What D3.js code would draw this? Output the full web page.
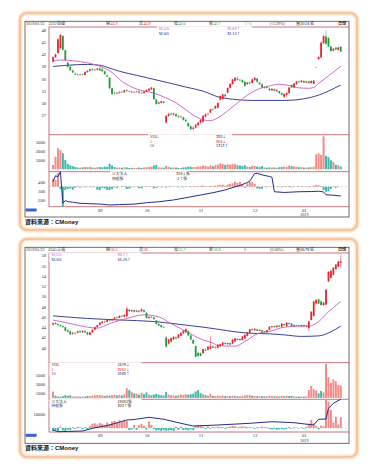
<!DOCTYPE html>
<html>
<head>
<meta charset="utf-8">
<script src="https://cdn.jsdelivr.net/npm/d3@7"></script>
<style>
  html, body { margin: 0; padding: 0; background: #fff; }
  svg { display: block; }
</style>
</head>
<body>
<div id="chart"></div>
<script>
// ---- trading calendar (category axis) ----
const firstDay = "2018-08-06"
const lastDay = "2019-01-22"
const holidays = ["2018-09-24", "2018-10-10", "2018-12-31", "2019-01-01"]
const monthTicks = ["2018-09-03", "2018-10-01", "2018-11-01", "2018-12-03", "2019-01-02"]
const monthLabels = ["09", "10", "11", "12", "01"]

// ---- 3232 : [open, high, low, close] per day ----
const p1Ohlc = [
  [40.2,41.5,40.0,41.3],[41.3,42.2,41.0,42.0],[42.3,46.0,42.0,45.7],[43.5,47.0,43.2,46.8],[46.5,46.8,42.9,43.1],
  [43.0,43.2,40.3,40.6],[39.9,40.1,38.7,38.9],[38.9,39.2,37.9,38.1],[38.0,38.3,37.3,37.5],[37.2,37.5,36.8,37.0],
  [37.0,37.3,36.7,36.9],[36.9,37.2,36.7,37.0],[37.0,37.2,36.8,36.9],[36.9,37.8,36.8,37.6],[37.6,38.1,37.4,37.9],
  [37.9,38.5,37.7,38.3],[38.3,38.6,37.9,38.1],[38.1,38.4,37.9,38.2],[38.2,38.7,38.0,38.5],[38.5,38.8,37.8,38.0],
  [38.3,38.6,37.6,37.8],[37.8,38.0,36.9,37.1],[36.8,37.0,36.3,36.5],[36.2,36.4,33.4,33.6],[33.6,33.8,32.0,32.2],
  [32.4,32.8,32.0,32.3],[32.3,32.7,32.1,32.5],[32.5,32.9,32.3,32.7],[32.7,33.0,32.4,32.6],[32.6,33.3,32.5,33.1],
  [33.1,33.4,32.8,32.9],[32.9,33.1,32.6,32.8],[32.8,33.0,32.4,32.6],[32.6,32.9,32.4,32.7],[32.7,33.0,32.5,32.8],
  [32.8,33.0,32.3,32.5],[32.5,32.8,32.2,32.4],[32.4,32.9,32.3,32.8],[32.8,33.3,32.7,33.2],[33.0,33.6,32.9,33.5],
  [33.3,33.9,33.2,33.8],[33.6,33.7,30.7,30.9],[30.8,31.0,29.5,29.7],[29.8,30.3,29.6,30.1],[30.0,30.5,29.8,30.4],
  [30.3,30.5,29.8,30.0],[25.1,27.1,24.9,26.8],[26.8,27.5,26.5,27.3],[27.3,27.7,26.9,27.1],[27.1,27.6,26.8,27.4],
  [27.2,27.4,26.5,26.7],[26.7,27.0,26.3,26.5],[26.5,26.9,26.2,26.6],[26.4,26.6,25.6,25.8],[25.8,26.2,25.3,25.5],
  [25.0,25.2,24.0,24.2],[24.2,24.5,23.3,23.5],[23.6,24.2,23.2,23.9],[23.9,24.9,23.7,24.6],[24.5,25.4,24.3,25.1],
  [25.1,26.0,24.9,25.8],[25.3,27.0,25.1,26.8],[26.6,27.4,26.4,27.2],[27.2,27.6,26.9,27.3],[27.6,28.5,27.4,28.4],
  [28.4,28.8,28.0,28.3],[28.6,29.4,28.5,29.2],[28.8,30.1,28.7,30.0],[30.8,31.8,30.6,31.7],[30.9,32.2,30.8,32.1],
  [32.0,32.3,31.4,31.6],[32.5,33.8,32.4,33.7],[33.7,34.8,33.6,34.7],[34.6,35.9,34.5,35.8],[35.4,36.4,35.3,36.2],
  [36.0,36.6,35.5,35.7],[35.7,36.0,35.3,35.6],[35.6,35.8,34.9,35.1],[35.2,35.4,34.0,34.2],[34.6,35.2,34.5,35.0],
  [35.0,35.3,34.6,34.8],[34.9,36.0,34.8,35.8],[35.6,36.4,35.5,36.2],[36.0,36.1,35.0,35.2],[35.0,35.2,34.4,34.6],
  [34.6,34.8,33.6,33.8],[33.8,34.1,33.5,33.9],[33.9,34.2,33.6,33.7],[33.5,33.8,32.9,33.1],[33.1,33.6,33.0,33.5],
  [33.4,33.6,32.8,33.0],[32.9,33.3,32.6,33.2],[32.9,33.0,32.2,32.4],[32.4,32.6,31.8,32.0],[31.5,32.3,31.2,32.2],
  [32.0,32.6,31.5,32.5],[32.4,33.9,32.3,33.8],[34.4,34.6,33.7,33.8],[33.8,34.9,33.7,34.8],[34.6,35.4,34.5,35.3],
  [35.3,35.5,34.9,35.1],[35.1,35.7,35.0,35.5],[35.4,35.6,34.9,35.0],[35.0,35.5,34.8,35.3],[35.3,35.5,34.7,34.9],
  [34.9,35.6,34.8,35.4],[34.7,35.6,34.6,35.5],[38.8,38.8,38.8,38.8],[40.8,41.5,40.6,41.3],[41.2,45.2,41.0,44.9],
  [44.8,46.9,44.5,46.5],[46.4,47.8,44.3,44.6],[46.0,46.3,43.8,43.9],[43.9,44.2,42.7,42.8],[42.9,43.6,42.7,43.4],
  [43.6,43.9,43.1,43.2],[43.1,43.8,42.9,43.7],[43.9,43.9,42.6,42.7]
]
const p1Vol = [
  480,1400,2330,2140,1780,1030,600,450,350,250,200,180,220,260,240,280,200,170,230,260,
  220,300,280,620,420,250,180,200,160,230,210,150,170,140,160,200,150,190,240,260,
  300,420,480,220,180,200,380,260,180,200,190,160,150,210,230,310,280,240,260,300,
  340,420,380,300,420,350,460,520,640,600,480,560,520,620,580,450,420,380,440,300,
  260,400,380,300,280,350,200,180,220,190,210,170,240,260,300,280,420,360,330,280,
  220,240,200,190,210,230,300,1650,1780,1600,3650,1500,1350,1000,800,500,450,300
]
const p1Net = [
  140,120,245,-40,-357,-60,-40,-30,-55,-20,10,-15,8,-10,10,-8,-12,6,-55,-60,
  -20,-30,-55,-60,-40,-10,-20,6,-8,10,-40,-35,-10,5,-8,-25,-30,8,12,-6,
  10,-30,-20,8,-10,6,-15,10,-8,5,-6,-10,6,-12,-5,8,-10,6,12,10,
  15,20,12,-6,18,10,20,25,30,35,20,40,50,60,90,70,85,40,-20,60,
  90,80,50,-30,-40,-35,10,-10,8,-6,10,-8,6,-10,12,8,15,-12,10,6,
  -8,10,-6,8,-10,6,20,30,25,15,-60,-90,-85,-40,10,-20,8,-2
]
// [day index, value]
const p1Hold = [[0,403],[1,470],[2,460],[3,516],[4,160],[5,190],[6,178],[8,172],[11,159],[15,155],[19,151],[23,140],[27,145],[33,150],[38,166],[43,177],[49,197],[55,227],[60,253],[65,279],[70,310],[74,345],[76,360],[79,395],[80,410],[82,495],[83,498],[85,480],[88,462],[89,455],[90,290],[94,282],[100,290],[105,292],[108,296],[110,288],[111,255],[113,253],[117,242]]
const p1Ma20 = [[0,40.3],[3,40.6],[8,40.4],[14,39.9],[20,38.8],[24,37.5],[27,35.8],[34,33.4],[41,32.4],[46,31.2],[50,30.0],[54,28.3],[58,26.6],[62,25.7],[64,25.6],[67,26.3],[72,28.5],[77,31.0],[82,33.0],[88,34.2],[92,34.6],[96,34.3],[100,33.7],[104,33.6],[106,33.8],[108,34.8],[111,36.2],[114,37.6],[117,39.0]]
const p1Ma60 = [[0,39.0],[6,39.3],[14,39.5],[19,39.3],[22,38.8],[27,37.8],[34,36.8],[41,35.8],[48,34.8],[54,33.9],[61,32.9],[67,31.5],[73,30.9],[81,30.6],[94,30.6],[102,31.0],[108,31.9],[113,33.2],[117,34.4]]
const p1PriceTicks = [27, 30, 33, 36, 39, 42, 45, 48]
const p1VolTicks = [1000, 2000, 3000]
const p1HoldTicks = [200, 300, 400]
const p1Quote = ["2019/01/22", "3232", "昱捷", "43.9", "43.9", "42.6", "42.7", "▽-1", "(-2.29%)", "2014"]
const p1MaText = ["38.69↑", "34.15↑"]
const p1VolText = ["300↓", "864↓", "1313↑"]
const p1NetText = ["319↓張", "-2↑張"]

// ---- 6245 ----
const p2Ohlc = [
  [44.5,44.9,44.3,44.8],[44.8,45.0,44.5,44.6],[44.6,44.8,44.3,44.4],[44.4,44.6,44.1,44.2],[44.2,44.4,43.9,44.0],
  [44.0,44.1,43.2,43.3],[43.4,43.6,43.0,43.1],[43.2,43.3,42.5,42.6],[42.7,43.1,42.5,42.9],[42.9,43.1,42.6,42.8],
  [42.9,43.3,42.8,43.2],[43.2,43.4,42.9,43.0],[43.0,43.4,42.9,43.3],[43.2,43.4,42.9,43.0],[43.0,43.1,42.4,42.6],
  [42.5,43.1,42.4,43.0],[43.0,43.6,42.9,43.5],[43.5,44.1,43.4,44.0],[44.0,44.5,43.9,44.4],[44.4,45.0,44.3,44.9],
  [44.8,45.2,44.6,45.1],[45.1,45.3,44.8,45.0],[45.0,45.5,44.9,45.4],[45.4,45.6,45.1,45.3],[45.3,45.7,45.2,45.6],
  [45.6,46.0,45.5,45.9],[45.9,46.1,45.6,45.8],[45.8,46.3,45.7,46.2],[46.2,46.4,45.9,46.1],[46.0,46.5,45.9,46.4],
  [46.1,48.1,46.0,47.6],[47.4,47.6,46.9,47.1],[47.1,47.5,46.9,47.3],[47.3,47.4,46.8,47.0],[47.0,47.4,46.9,47.2],
  [47.2,47.3,46.8,47.0],[47.1,47.7,47.0,47.5],[47.3,47.4,46.8,47.0],[46.8,46.9,45.6,45.8],[45.8,46.2,45.6,46.0],
  [46.0,46.2,45.7,45.9],[45.9,46.0,45.4,45.6],[45.3,45.4,44.5,44.6],[44.6,44.8,44.2,44.3],[44.4,44.5,43.9,44.0],
  [44.0,44.3,43.8,43.9],[42.0,42.2,40.0,40.2],[40.8,41.8,40.6,41.6],[41.2,42.0,41.0,41.9],[41.6,42.3,41.5,42.1],
  [42.0,42.2,41.6,41.8],[41.9,42.7,41.8,42.6],[42.3,43.0,42.2,42.9],[42.8,43.4,42.6,43.3],[43.0,43.8,42.9,43.6],
  [43.2,43.4,42.3,42.4],[42.4,42.6,41.5,41.6],[41.5,41.7,40.7,40.8],[40.3,40.4,38.1,38.2],[39.0,39.2,38.3,38.4],
  [38.9,39.1,38.3,38.4],[38.9,39.8,38.8,39.7],[39.6,39.9,39.3,39.4],[39.6,40.3,39.5,40.2],[39.8,42.2,39.7,40.3],
  [40.2,40.5,39.9,40.0],[40.0,40.3,39.8,40.1],[40.0,40.7,39.9,40.6],[40.3,40.8,40.2,40.7],[40.5,41.1,40.4,41.0],
  [40.9,41.1,40.6,40.7],[40.7,41.0,40.5,40.9],[40.9,41.0,40.5,40.6],[40.8,41.7,40.7,41.6],[41.2,41.9,41.1,41.8],
  [41.7,41.9,41.4,41.5],[41.5,41.8,41.3,41.7],[41.5,42.3,41.4,42.2],[41.8,42.6,41.7,42.5],[42.3,43.1,42.2,43.0],
  [42.9,43.7,42.8,43.6],[43.6,43.8,43.3,43.4],[43.4,43.8,43.3,43.7],[43.6,43.7,43.2,43.3],[43.3,43.6,43.2,43.5],
  [43.4,43.5,43.0,43.1],[43.1,43.3,42.9,43.0],[43.0,43.5,42.9,43.4],[43.5,44.2,43.4,44.1],[44.0,44.3,43.9,44.2],
  [44.2,44.3,43.9,44.0],[44.0,44.4,43.9,44.3],[44.3,44.4,44.0,44.1],[44.1,44.8,44.0,44.7],[44.6,44.7,44.3,44.4],
  [44.2,45.0,44.1,44.9],[44.8,44.9,44.5,44.6],[44.7,44.8,44.1,44.2],[44.2,44.5,44.1,44.4],[44.4,44.5,44.2,44.3],
  [44.3,44.5,44.1,44.2],[44.2,44.5,44.1,44.4],[44.4,44.5,44.1,44.2],[44.2,44.4,44.0,44.3],[43.8,45.2,43.3,45.1],
  [45.4,47.1,45.3,47.0],[46.2,49.2,46.0,49.0],[48.6,49.5,48.4,49.3],[49.4,49.6,48.5,48.6],[49.0,49.2,48.2,48.3],
  [48.3,48.9,48.1,48.8],[48.4,51.4,48.3,51.3],[52.9,54.9,52.8,54.8],[53.6,55.1,53.5,55.0],[54.2,55.7,54.1,55.6],
  [55.3,56.3,55.2,56.2],[55.8,56.9,55.7,56.8],[56.5,58.0,55.7,56.8]
]
const p2Vol = [
  1350,500,300,260,400,600,450,550,300,260,350,280,320,260,420,380,500,560,620,600,
  520,400,560,480,620,700,520,640,500,800,2090,1700,1350,1000,900,700,1100,800,1200,700,
  600,700,900,700,600,500,1300,700,600,500,450,600,700,650,800,700,800,900,1400,1700,
  1000,800,600,500,900,450,400,500,450,500,400,350,380,500,450,380,350,450,500,600,
  650,450,400,380,350,380,300,350,500,400,350,380,300,450,350,500,380,450,300,280,
  300,320,280,350,1700,2590,1900,1600,1000,1500,1200,7400,4470,3300,4040,3600,2800,2679
]
const p2Net = [
  -80,-60,-100,40,-70,-90,-50,-60,30,-20,40,20,-30,30,-40,60,120,130,100,140,
  120,80,150,110,180,200,160,220,180,230,200,-60,-40,90,-50,80,120,60,-40,180,
  90,-30,-70,-60,-80,-60,-75,-70,-60,-80,30,-50,40,-60,-50,-70,-40,-60,60,84,
  70,40,-30,50,-20,30,20,40,30,20,-20,30,40,60,50,20,30,50,40,30,
  20,20,-20,30,20,40,30,20,-30,-40,-30,-50,-40,-30,-40,-20,30,-20,20,10,
  -10,20,-20,30,120,225,130,60,-40,70,50,800,740,505,150,317,100,303
]
const p2Hold = [[0,1130],[2,170],[6,300],[12,565],[16,2090],[23,3950],[30,6780],[33,7060],[39,8300],[45,7200],[52,4915],[57,3390],[67,3950],[80,4915],[89,5820],[98,5250],[106,3950],[108,7200],[111,7340],[112,13400],[114,16200],[117,18500]]
const p2Ma20 = [[0,45.4],[7,44.7],[14,44.0],[18,43.8],[23,44.7],[30,45.7],[37,46.4],[43,46.0],[48,44.7],[54,43.2],[61,41.5],[65,40.9],[67,40.4],[74,40.3],[78,41.2],[83,42.7],[89,43.3],[94,44.0],[100,44.2],[104,44.2],[108,45.1],[112,47.0],[117,49.0]]
const p2Ma60 = [[0,46.2],[14,45.7],[27,45.4],[41,45.1],[54,44.4],[61,44.0],[67,43.6],[74,43.1],[81,42.8],[88,42.7],[94,42.5],[101,42.2],[108,42.3],[113,43.1],[117,44.2]]
const p2PriceTicks = [40, 42, 44, 46, 48, 50, 52, 54, 56, 58]
const p2VolTicks = [1000, 3000, 5000]
const p2HoldTicks = [10000]
const p2Quote = ["2019/01/22", "6245", "立端", "56.5", "58", "55.7", "56.8", "0", "(0.00%)", "2679"]
const p2MaText = ["49.7↑", "44.26↑"]
const p2VolText = ["2679↓", "3064↓", "2049↑"]
const p2NetText = ["19081張", "303↑張"]

// ---- colours ----
const upColor = "#e3262e"
const downColor = "#1e9a3c"
const volUp = "#f28a86"
const volDown = "#39b9a8"
const ma20Color = "#cf58c6"
const ma60Color = "#232c8e"
const rule = "#b8525c"
const serif = "'Liberation Serif', 'Noto Sans CJK TC', serif"
const cjk = "'Noto Sans CJK TC', sans-serif"

const parseDay = d3.timeParse("%Y-%m-%d")
const fmtDay = d3.timeFormat("%Y-%m-%d")
const days = d3.timeDay
  .range(parseDay(firstDay), d3.timeDay.offset(parseDay(lastDay), 1))
  .filter(d => d.getDay() % 6 !== 0 && !holidays.includes(fmtDay(d)))
  .map(fmtDay)

const width = 373
const height = 468
const x = d3.scaleBand().domain(days).range([51.8, 342])
const cx = i => x(days[i]) + x.bandwidth() / 2
const bw = x.bandwidth()

const svg = d3
  .select("#chart")
  .append("svg")
  .attr("width", width)
  .attr("height", height)
  .attr("viewBox", [0, 0, width, height])
  .style("font-family", serif)

const StockPanel = (
  ohlc,
  {
    vol, net, hold, ma20, ma60, priceTicks, volTicks, holdTicks, quote,
    maText, volText, netText,
    box, frame, priceTop, priceBot, volBot, indBot,
    priceY, volY, holdY, netY, maLegend, volLegend, netLegend
  }
) => {
  const g = svg.append("g")
  const left = 49
  const right = frame[0] + frame[2]

  // orange rounded card
  g.append("rect").attr("x", box[0]).attr("y", box[1]).attr("width", box[2]).attr("height", box[3])
    .attr("rx", 7).attr("fill", "#fff").attr("stroke", "#fde4cf").attr("stroke-width", 5)
  g.append("rect").attr("x", box[0]).attr("y", box[1]).attr("width", box[2]).attr("height", box[3])
    .attr("rx", 7).attr("fill", "none").attr("stroke", "#f5bb8f").attr("stroke-width", 1.6)

  // chart frame
  g.append("rect").attr("x", frame[0]).attr("y", frame[1]).attr("width", frame[2]).attr("height", frame[3])
    .attr("fill", "#fff").attr("stroke", "#4a4a4a").attr("stroke-width", 0.8)
  ;[priceTop, priceBot, volBot, indBot].forEach(yy =>
    g.append("line").attr("x1", left).attr("x2", right).attr("y1", yy).attr("y2", yy)
      .attr("stroke", rule).attr("stroke-width", 0.8))
  g.append("line").attr("x1", left).attr("x2", left).attr("y1", priceTop).attr("y2", indBot)
    .attr("stroke", rule).attr("stroke-width", 0.8)

  const y = d3.scaleLinear().domain(priceY.domain).range(priceY.range)
  const yVol = d3.scaleLinear().domain(volY.domain).range(volY.range)
  const yHold = d3.scaleLinear().domain(holdY.domain).range(holdY.range)
  const yNet = d3.scaleLinear().domain(netY.domain).range(netY.range)

  // moving averages
  const maLine = d3.line().x(d => cx(d[0])).y(d => y(d[1])).curve(d3.curveMonotoneX)
  g.append("path").attr("d", maLine(ma60)).attr("fill", "none").attr("stroke", ma60Color).attr("stroke-width", 0.9)
  g.append("path").attr("d", maLine(ma20)).attr("fill", "none").attr("stroke", ma20Color).attr("stroke-width", 0.9)

  // candles
  const I = d3.range(ohlc.length)
  const up = i => ohlc[i][3] >= ohlc[i][0]
  const candle = g.append("g").selectAll("g").data(I).join("g")
  candle.append("line")
    .attr("x1", i => cx(i)).attr("x2", i => cx(i))
    .attr("y1", i => y(ohlc[i][1])).attr("y2", i => y(ohlc[i][2]))
    .attr("stroke", i => (up(i) ? upColor : downColor)).attr("stroke-width", 0.5)
  candle.append("rect")
    .attr("x", i => cx(i) - bw * 0.36)
    .attr("width", bw * 0.72)
    .attr("y", i => y(Math.max(ohlc[i][0], ohlc[i][3])))
    .attr("height", i => Math.max(0.5, Math.abs(y(ohlc[i][0]) - y(ohlc[i][3]))))
    .attr("fill", i => (up(i) ? upColor : downColor))

  // volume
  g.append("g").selectAll("rect").data(I).join("rect")
    .attr("x", i => cx(i) - bw * 0.4)
    .attr("width", bw * 0.8)
    .attr("y", i => yVol(vol[i]))
    .attr("height", i => yVol(0) - yVol(vol[i]))
    .attr("fill", i => (up(i) ? volUp : volDown))

  // institutional net buy / sell and holdings
  g.append("line").attr("x1", left).attr("x2", right).attr("y1", yNet(0)).attr("y2", yNet(0))
    .attr("stroke", "#aaa").attr("stroke-width", 0.5).attr("stroke-dasharray", "2,2")
  g.append("g").selectAll("rect").data(I).join("rect")
    .attr("x", i => cx(i) - bw * 0.4)
    .attr("width", bw * 0.8)
    .attr("y", i => Math.min(yNet(0), yNet(net[i])))
    .attr("height", i => Math.abs(yNet(net[i]) - yNet(0)))
    .attr("fill", i => (net[i] >= 0 ? volUp : volDown))
  g.append("path")
    .attr("d", d3.line().x(d => cx(d[0])).y(d => yHold(d[1]))(hold))
    .attr("fill", "none").attr("stroke", ma60Color).attr("stroke-width", 1)

  // left axes
  const axisStyle = a => a.call(s => s.select(".domain").remove())
    .call(s => s.selectAll("text").attr("font-size", 4.6).attr("font-family", serif).attr("fill", "#333"))
  const plain = d3.format("d")
  g.append("g").attr("transform", `translate(${left},0)`)
    .call(d3.axisLeft(y).tickValues(priceTicks).tickFormat(plain).tickSize(0).tickPadding(3)).call(axisStyle)
  g.append("g").attr("transform", `translate(${left},0)`)
    .call(d3.axisLeft(yVol).tickValues(volTicks).tickFormat(plain).tickSize(0).tickPadding(4)).call(axisStyle)
  g.append("g").attr("transform", `translate(${left},0)`)
    .call(d3.axisLeft(yHold).tickValues(holdTicks).tickFormat(plain).tickSize(0).tickPadding(4)).call(axisStyle)

  // month axis
  const xAxis = d3.axisBottom(x).tickValues(monthTicks).tickSize(0).tickPadding(2)
    .tickFormat((d, k) => monthLabels[k])
  g.append("g").attr("transform", `translate(-2,${indBot})`).call(xAxis).call(axisStyle)
  g.append("text").attr("x", x(monthTicks[4]) - 2 + bw / 2).attr("y", indBot + 9.6)
    .attr("text-anchor", "middle").attr("font-size", 4.2).attr("fill", "#333").text("2019")
  g.append("rect").attr("x", frame[0] + 0.6).attr("y", indBot + 1.8).attr("width", 11).attr("height", 3)
    .attr("fill", "#3b5fd6")

  // legends (white boxes sit over the panel rules)
  const legend = (pos, labels, values, colors) => {
    g.append("rect").attr("x", pos[0]).attr("y", pos[1]).attr("width", pos[2]).attr("height", pos[3]).attr("fill", "#fff")
    labels.forEach((t, k) => {
      const ly = pos[1] + 3.9 + k * 4.5
      g.append("text").attr("x", pos[0] + 2).attr("y", ly).attr("font-size", 3.8)
        .attr("font-family", /[\u4e00-\u9fff]/.test(t) ? cjk : serif).attr("fill", colors[k]).text(t)
      g.append("text").attr("x", pos[0] + pos[4]).attr("y", ly).attr("font-size", 3.8)
        .attr("font-family", cjk).attr("fill", colors[k]).text(values[k])
    })
  }
  legend(maLegend, ["MA20", "MA60"], maText, [ma20Color, ma60Color])
  legend(volLegend, ["VOL.", "5", "10"], volText, ["#333", upColor, ma60Color])
  legend(netLegend, ["三大法人", "持股張"], netText, ["#333", "#333"])

  // header quote line
  const hy = frame[1] + 3.6
  const hdr = [
    [frame[0] + 1, quote[0], "#333"], [48.5, quote[1], "#333"], [57, quote[2], "#333"],
    [106, "開", "#333"], [110.5, quote[3], upColor], [139, "高", "#333"], [143.5, quote[4], upColor],
    [174, "低", "#333"], [178.5, quote[5], downColor], [209, "收", "#333"], [213.5, quote[6], downColor],
    [244, quote[7], downColor], [270, quote[8], "#333"], [296, "量" + quote[9] + " 張", "#333"],
    [338, "日線", "#222"]
  ]
  hdr.forEach(([hx, t, c]) =>
    g.append("text").attr("x", hx).attr("y", hy).attr("font-size", 4.1).attr("fill", c)
      .attr("font-family", /[\u4e00-\u9fff]/.test(t) ? cjk : serif)
      .attr("font-weight", t === "日線" ? 700 : 400).text(t))

  // source note
  const src = g.append("text").attr("x", frame[0]).attr("y", frame[1] + frame[3] + 6.8)
    .attr("font-size", 6).attr("font-weight", 700).attr("fill", "#111")
  src.append("tspan").attr("font-family", cjk).text("資料來源：")
  src.append("tspan").attr("font-family", "'Liberation Sans', Arial, sans-serif").text("CMoney")
}

StockPanel(p1Ohlc, {
  vol: p1Vol, net: p1Net, hold: p1Hold, ma20: p1Ma20, ma60: p1Ma60,
  priceTicks: p1PriceTicks, volTicks: p1VolTicks, holdTicks: p1HoldTicks, quote: p1Quote,
  maText: p1MaText, volText: p1VolText, netText: p1NetText,
  box: [20, 13, 337, 217], frame: [25, 21.3, 324, 195.7],
  priceTop: 27, priceBot: 134.7, volBot: 171.7, indBot: 206.7,
  priceY: { domain: [27, 48], range: [115, 30] },
  volY: { domain: [0, 3000], range: [169.3, 142.3] },
  holdY: { domain: [200, 400], range: [199.7, 182] },
  netY: { domain: [0, -357], range: [186.7, 206.7] },
  maLegend: [157, 26.3, 95, 9.5, 70],
  volLegend: [148, 134.2, 84, 14, 68],
  netLegend: [110, 171.2, 80, 10, 66]
})

StockPanel(p2Ohlc, {
  vol: p2Vol, net: p2Net, hold: p2Hold, ma20: p2Ma20, ma60: p2Ma60,
  priceTicks: p2PriceTicks, volTicks: p2VolTicks, holdTicks: p2HoldTicks, quote: p2Quote,
  maText: p2MaText, volText: p2VolText, netText: p2NetText,
  box: [20, 239, 337, 218], frame: [25, 247.3, 324, 196],
  priceTop: 253, priceBot: 362.7, volBot: 399.3, indBot: 432,
  priceY: { domain: [40, 58], range: [347.7, 255.3] },
  volY: { domain: [0, 5000], range: [397.9, 374.9] },
  holdY: { domain: [0, 10000], range: [432, 414.3] },
  netY: { domain: [0, 800], range: [428, 399.5] },
  maLegend: [49.5, 252.5, 92, 9.5, 68],
  volLegend: [49.5, 362.2, 92, 14, 68],
  netLegend: [49.5, 398.8, 92, 10, 68]
})
</script>
</body>
</html>
